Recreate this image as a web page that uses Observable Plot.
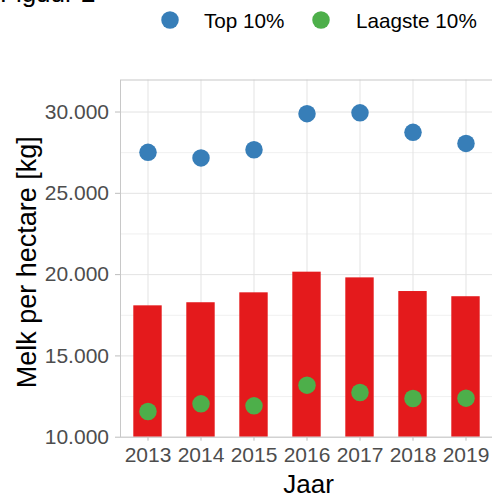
<!DOCTYPE html>
<html>
<head>
<meta charset="utf-8">
<script src="https://cdn.jsdelivr.net/npm/d3@7"></script>
<script src="https://cdn.jsdelivr.net/npm/@observablehq/plot@0.6"></script>
<style>
  body { margin: 0; background: white; font-family: "Liberation Sans", Arial, sans-serif; }
  #wrap { position: relative; width: 492px; height: 495px; overflow: hidden; }
  #wrap svg.plot { display: block; }
  #header { position: absolute; left: 0; top: 0; }
</style>
</head>
<body>
<div id="wrap">
  <svg id="header" width="492" height="40" xmlns="http://www.w3.org/2000/svg"></svg>
</div>
<script>
const years = ["2013", "2014", "2015", "2016", "2017", "2018", "2019"];
const average = [18080, 18270, 18880, 20150, 19800, 18960, 18640];
const top10 = [27520, 27180, 27680, 29900, 29950, 28750, 28070];
const lowest10 = [11580, 12050, 11930, 13200, 12750, 12380, 12400];
const yTicks = [10000, 15000, 20000, 25000, 30000];
const yMinor = [12500, 17500, 22500, 27500];
const yDomain = [10000, 31970];
const seriesNames = ["Top 10%", "Laagste 10%"];
const seriesColors = ["#377EB8", "#4DAF4A"];
const barColor = "#E41A1C";
const title = "Figuur 2";

const nl = d3.formatLocale({decimal: ",", thousands: ".", grouping: [3], currency: ["€", ""]});
const fmt = nl.format(",d");

const rows = years.map((y, i) => ({year: y, avg: average[i], top: top10[i], low: lowest10[i], base: yDomain[0]}));

const chart = Plot.plot({
  width: 492,
  height: 495,
  marginTop: 79.5,
  marginBottom: 58.3,
  marginLeft: 120,
  marginRight: -1,
  style: {fontFamily: "'Liberation Sans', Arial, sans-serif", background: "transparent"},
  x: {type: "band", domain: years, padding: 0, axis: null},
  y: {domain: yDomain, axis: null},
  marks: [
    Plot.ruleY(yMinor, {stroke: "#ececec", strokeWidth: 0.8}),
    Plot.ruleY(yTicks, {stroke: "#e3e3e3", strokeWidth: 1}),
    Plot.gridX(years, {stroke: "#e3e3e3", strokeOpacity: 1, strokeWidth: 1}),
    Plot.barY(rows, {x: "year", y1: "base", y2: "avg", fill: barColor, insetLeft: 12.3, insetRight: 12.3}),
    Plot.dot(rows, {x: "year", y: "top", r: 8.75, fill: seriesColors[0]}),
    Plot.dot(rows, {x: "year", y: "low", r: 8.75, fill: seriesColors[1]}),
    Plot.frame({stroke: "#c8c8c8", strokeWidth: 1}),
    Plot.axisY(yTicks, {tickSize: 5, tickPadding: 6.5, tickFormat: fmt, fontSize: 21, fill: "#4d4d4d", stroke: "#bdbdbd", label: null}),
    Plot.axisX(years, {tickSize: 4, tickPadding: 6, fontSize: 21, fill: "#4d4d4d", stroke: "#bdbdbd", label: null}),
    Plot.text(["Jaar"], {frameAnchor: "bottom", lineAnchor: "middle", textAnchor: "middle", dx: 1.5, dy: 47.3, fontSize: 26, fill: "black"}),
    Plot.text(["Melk per hectare [kg]"], {frameAnchor: "left", lineAnchor: "middle", textAnchor: "middle", rotate: -90, dx: -93.6, dy: 3.6, fontSize: 27, fill: "black"})
  ]
});
chart.classList.add("plot");
document.getElementById("wrap").insertBefore(chart, document.getElementById("header"));

// Header: title (cut off at top) and legend
const hdr = d3.select("#header");
hdr.append("text").attr("x", 0).attr("y", 2).attr("font-size", 26).attr("fill", "black")
  .attr("font-family", "'Liberation Sans', Arial, sans-serif").text(title);
const legendItems = [
  {cx: 170, tx: 204},
  {cx: 321, tx: 356}
];
legendItems.forEach((it, i) => {
  hdr.append("circle").attr("cx", it.cx).attr("cy", 20).attr("r", 8.75).attr("fill", seriesColors[i]);
  hdr.append("text").attr("x", it.tx).attr("y", 27.5).attr("font-size", 20.7).attr("fill", "black")
    .attr("font-family", "'Liberation Sans', Arial, sans-serif").text(seriesNames[i]);
});
</script>
</body>
</html>
